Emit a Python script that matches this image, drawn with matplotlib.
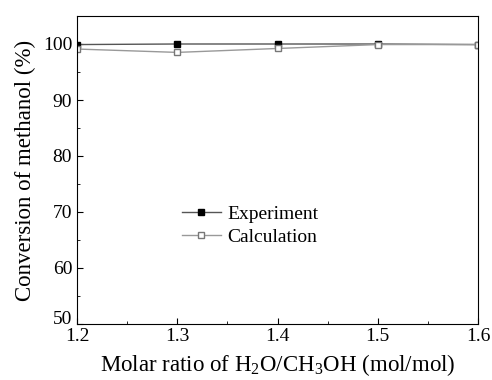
import matplotlib
matplotlib.use("Agg")
import matplotlib.pyplot as plt
import matplotlib.transforms as mtransforms
from matplotlib.ticker import MultipleLocator

ratio = [1.2, 1.3, 1.4, 1.5, 1.6]
experiment = [99.9, 100.0, 100.0, 100.0, 99.9]
calculation = [99.1, 98.5, 99.2, 99.9, 99.9]

plt.rcParams['font.family'] = ['Liberation Serif']
plt.rcParams['mathtext.fontset'] = 'custom'
plt.rcParams['mathtext.rm'] = 'Liberation Serif'

fig = plt.figure(figsize=(4.92, 3.8), dpi=100)
ax = fig.add_axes([77/492, 1 - 324/380, (478-77)/492, (324-16)/380])

ax.plot(ratio, experiment, color='#555555', lw=1.0, marker='s', ms=5,
        mfc='black', mec='black', label='Experiment')
ax.plot(ratio, calculation, color='#999999', lw=1.0, marker='s', ms=5,
        mfc='white', mec='#777777', label='Calculation')

ax.set_xlim(1.2, 1.6)
ax.set_ylim(50, 105)
ax.xaxis.set_major_locator(MultipleLocator(0.1))
ax.xaxis.set_minor_locator(MultipleLocator(0.05))
ax.yaxis.set_major_locator(MultipleLocator(10))
ax.yaxis.set_minor_locator(MultipleLocator(5))
ax.tick_params(which='both', direction='in', top=False, right=False, labelsize=14)
ax.tick_params(which='major', length=4)
ax.tick_params(which='minor', length=2.5)
ax.tick_params(axis='x', pad=3)

# the bottom "50" sits a little higher in the original so it clears "1.2"
fig.canvas.draw()
for lab in ax.get_yticklabels():
    if lab.get_text() == '50':
        lab.set_transform(lab.get_transform() +
                          mtransforms.ScaledTranslation(0, 6/100, fig.dpi_scale_trans))

ax.set_xlabel(r'Molar ratio of H$_2$O/CH$_3$OH (mol/mol)', fontsize=16.5, labelpad=5)
ax.set_ylabel('Conversion of methanol (%)', fontsize=16.5, labelpad=5)

ax.legend(loc='center left', bbox_to_anchor=(0.217, 0.32), frameon=False,
          fontsize=14, handlelength=2.05, handletextpad=0.3, labelspacing=0.3)

fig.savefig('out.png', dpi=100)
